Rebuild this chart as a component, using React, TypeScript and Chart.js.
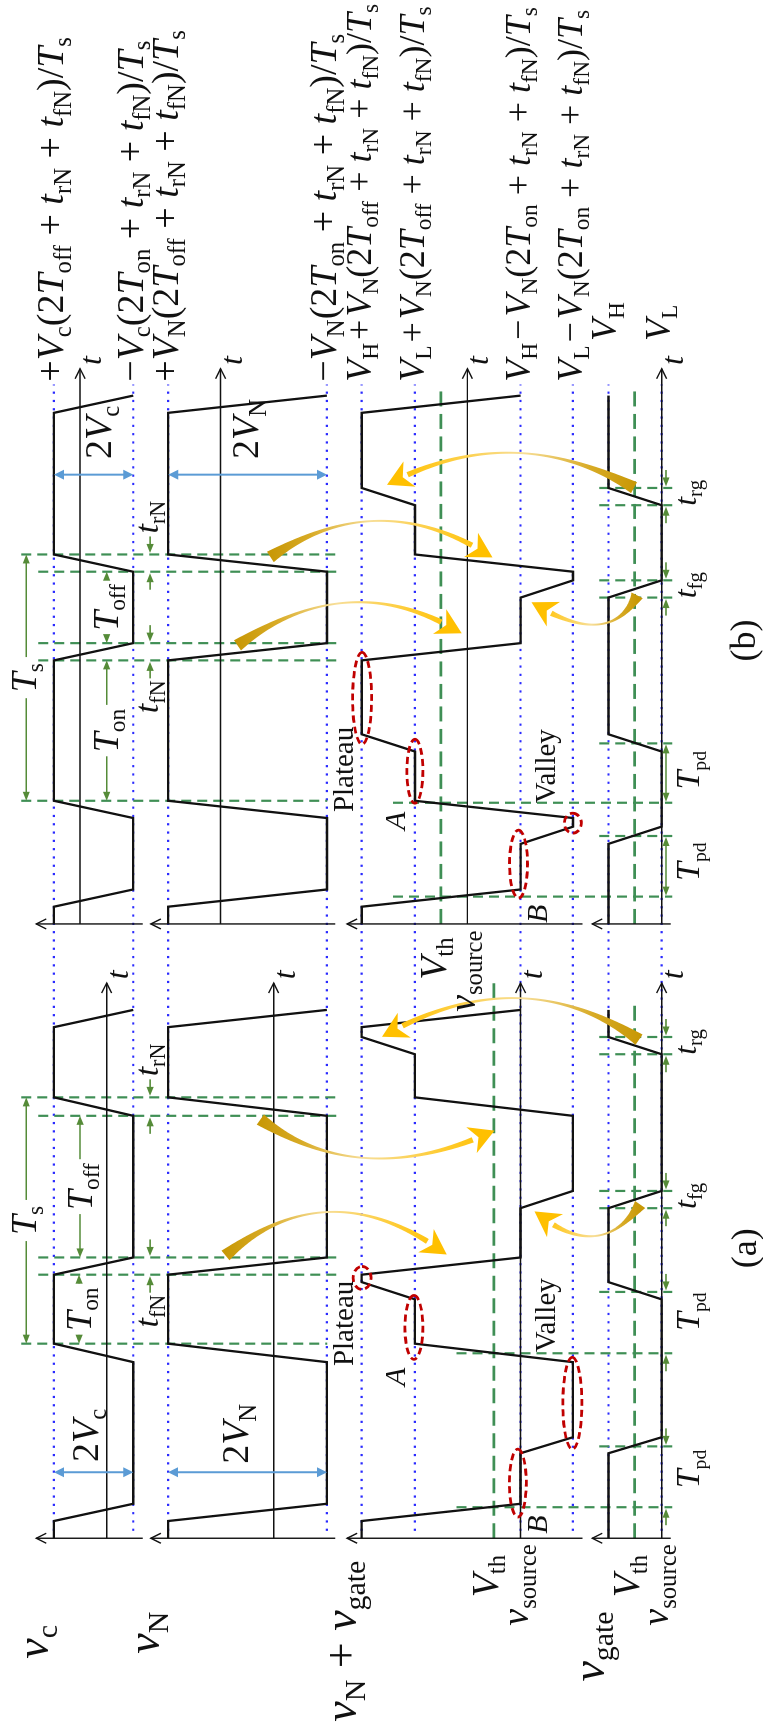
import React, { useEffect, useRef } from 'react';
import { Chart, registerables } from 'chart.js';

Chart.register(...registerables);

/* ======================= DATA =======================
   time in µs (T_s = 10 µs), each panel measured from its own origin
   amplitudes normalised: row v_c in V_c, other rows in V_N            */

// panel (a): T_on < T_off
const A_CARRIER_T = [0, 0.7, 1.4, 7.15, 7.9, 10.7, 11.4, 17.15, 17.9, 20.75, 21.45];
const A_VC = [1.33, 1.33, -0.67, -0.67, 1.33, 1.33, -0.67, -0.67, 1.33, 1.33, -0.67];
const A_VN = [1.33, 1.33, -0.67, -0.67, 1.33, 1.33, -0.67, -0.67, 1.33, 1.33, -0.67];
const A_SUM_T = [0, 0.7, 1.4, 3.45, 4.1, 7.15, 7.9, 9.7, 10.4, 10.7, 11.4, 13.4, 14.1, 17.15, 17.9, 19.65, 20.35, 20.75, 21.45];
const A_SUM = [2.0, 2.0, 0, 0, -0.66, -0.66, 1.33, 1.33, 2.0, 2.0, 0, 0, -0.66, -0.66, 1.33, 1.33, 2.0, 2.0, 0];
const A_GATE_T = [0, 3.45, 4.1, 9.7, 10.4, 13.4, 14.1, 19.65, 20.35, 21.45];
const A_GATE = [0.67, 0.67, 0, 0, 0.67, 0.67, 0, 0, 0.67, 0.67];

// panel (b): T_on > T_off
const B_CARRIER_T = [0, 0.7, 1.4, 4.3, 5.0, 10.7, 11.4, 14.3, 15.0, 20.75, 21.45];
const B_VC = [0.66, 0.66, -1.34, -1.34, 0.66, 0.66, -1.34, -1.34, 0.66, 0.66, -1.34];
const B_VN = [0.66, 0.66, -1.34, -1.34, 0.66, 0.66, -1.34, -1.34, 0.66, 0.66, -1.34];
const B_SUM_T = [0, 0.7, 1.4, 3.25, 3.95, 4.3, 5.0, 7.0, 7.7, 10.7, 11.4, 13.25, 13.95, 14.3, 15.0, 17.0, 17.7, 20.75, 21.45];
const B_SUM = [1.33, 1.33, -0.67, -0.67, -1.33, -1.33, 0.66, 0.66, 1.33, 1.33, -0.67, -0.67, -1.33, -1.33, 0.66, 0.66, 1.33, 1.33, -0.67];
const B_GATE_T = [0, 3.25, 3.95, 7.0, 7.7, 13.25, 13.95, 17.0, 17.7, 21.45];
const B_GATE = [0.67, 0.67, 0, 0, 0.67, 0.67, 0, 0, 0.67, 0.67];

// reference levels
const VC_LEVELS = [1.33, -0.67];
const VN_LEVELS = [1.33, -0.67];
const SUM_LEVELS = [2.0, 1.33, 0, -0.66];
const GATE_LEVELS = [0.67, 0];
const B_VC_LEVELS = [0.66, -1.34];
const B_VN_LEVELS = [0.66, -1.34];
const B_SUM_LEVELS = [1.33, 0.66, -0.67, -1.33];
const V_TH_SUM = 0.335;
const V_TH_GATE = 0.34;

// timing marks (µs): T_s start, end of T_on, end of t_fN, end of T_off, end of t_rN
const A_MARKS = [7.9, 10.7, 11.4, 17.15, 17.9];
const B_MARKS = [5.0, 10.7, 11.4, 14.3, 15.0];
const A_PD = [[1.26, 3.73], [7.51, 10.0]];
const B_PD = [[1.11, 3.57], [4.92, 7.33]];
const A_PD_LABEL = [2.81, 9.2];
const B_PD_LABEL = [2.53, 6.24];
const A_GSW = [[13.4, 14.1], [19.65, 20.35]];
const B_GSW = [[13.25, 13.95], [17.0, 17.7]];

/* ======================= LAYOUT / STYLE ======================= */
const W = 1732;
const H = 763;
const PX_PER_US = 24.67;
const X0 = 192.7;
const B_SHIFT = 24.94;
const T_TIP = 22.54;
const ROW_SCALE: Record<string, [number, number]> = {
  vc_a: [105.7, 39.8], vc_b: [79.0, 39.8],
  vN_a: [273.3, 79.7], vN_b: [220.0, 79.7],
  sum_a: [521.0, 79.7], sum_b: [467.7, 79.7],
  g_a: [662.7, 79.7], g_b: [662.7, 79.7],
};
const ROWS = ['vc', 'vN', 'sum', 'g'];
const AXIS_SPAN: Record<string, [number, number]> = { vc: [35, 142], vN: [150, 335], sum: [347, 583.3], g: [593, 671.7] };

const BLACK = '#111111';
const BLUE_DOT = '#2a2aff';
const GREEN_DASH = '#3f8f55';
const GREEN_ARR = '#558b38';
const BLUE_ARR = '#5b9bd5';
const RED = '#c00000';

// gold arrows: panel, tail(t,Y), control(t,Y), tip(t,Y)
const GOLD: [string, number, number, number, number, number, number][] = [
  ['a', 11.48, 225, 15.0, 330, 11.52, 447],
  ['a', 17.0, 260, 14.08, 362, 16.55, 495],
  ['a', 13.55, 641, 11.12, 600, 13.27, 535],
  ['a', 20.24, 640, 23.56, 520, 20.36, 382],
  ['b', 14.9, 270, 17.84, 380, 14.88, 493],
  ['b', 11.31, 237, 14.55, 350, 11.8, 462],
  ['b', 13.34, 638, 11.11, 610, 13.06, 532],
  ['b', 17.71, 635, 20.49, 511, 17.83, 387],
];
// red dashed rings: panel, t, Y, rx, ry
const RINGS: [string, number, number, number, number][] = [
  ['a', 2.24, 518.3, 34, 8.5], ['a', 5.48, 573, 46, 9.5], ['a', 8.56, 414, 32, 9], ['a', 10.57, 362, 11.5, 9],
  ['b', 9.16, 362, 46, 9.5], ['b', 6.2, 415, 32, 8], ['b', 2.43, 519, 34, 9], ['b', 4.09, 573.5, 10, 8.5],
];

/* ======================= datasets ======================= */
function buildDatasets() {
  const ds: any[] = [];
  const add = (data: any[], yAxisID: string, color: string, width: number, dash: number[], order: number) =>
    ds.push({
      data, xAxisID: 'x', yAxisID, showLine: true, borderColor: color, backgroundColor: color,
      borderWidth: width, borderDash: dash, pointRadius: 0, pointHoverRadius: 0, pointHitRadius: 0,
      fill: false, tension: 0, order, borderCapStyle: 'butt', borderJoinStyle: 'miter',
    });
  const seg = (x1: number, y1: number, x2: number, y2: number) => [{ x: x1, y: y1 }, { x: x2, y: y2 }];
  const zip = (ts: number[], vs: number[], off: number) => ts.map((t, i) => ({ x: t + off, y: vs[i] }));

  const dotEnd = B_SHIFT + 21.9;
  const dotted: [string, number[]][] = [['vc_a', VC_LEVELS], ['vN_a', VN_LEVELS], ['sum_a', SUM_LEVELS], ['g_a', GATE_LEVELS]];
  dotted.forEach(([id, lv]) => lv.forEach((v) => add(seg(0.3, v, dotEnd, v), id, BLUE_DOT, 2.2, [2.2, 6.1], 40)));

  add(seg(0, V_TH_SUM, 22.6, V_TH_SUM), 'sum_a', GREEN_DASH, 2.7, [15, 7.5], 30);
  add(seg(0, V_TH_GATE, 21.9, V_TH_GATE), 'g_a', GREEN_DASH, 2.7, [15, 7.5], 30);
  add(seg(B_SHIFT, V_TH_SUM, B_SHIFT + 21.85, V_TH_SUM), 'sum_b', GREEN_DASH, 2.7, [15, 7.5], 30);
  add(seg(B_SHIFT, V_TH_GATE, B_SHIFT + 21.85, V_TH_GATE), 'g_b', GREEN_DASH, 2.7, [15, 7.5], 30);

  const mark = (t: number, y1: number, y2: number) => add(seg(t, y1, t, y2), 'fig', GREEN_DASH, 2.2, [10, 6], 25);
  ([[A_MARKS, 0], [B_MARKS, B_SHIFT]] as [number[], number][]).forEach(([m, off]) =>
    m.forEach((t, i) => mark(t + off, i === 0 || i === m.length - 1 ? 20 : 37, i === 0 ? 327 : 340)));
  A_PD.forEach(([s, e]) => { mark(s, 456.7, 673.3); mark(e, 600, 673.3); });
  B_PD.forEach(([s, e]) => { mark(s + B_SHIFT, 393, 673.3); mark(e + B_SHIFT, 600, 673.3); });
  A_GSW.forEach((pr) => pr.forEach((t) => mark(t, 600, 673.3)));
  B_GSW.forEach((pr) => pr.forEach((t) => mark(t + B_SHIFT, 600, 673.3)));

  ([['a', 0], ['b', B_SHIFT]] as [string, number][]).forEach(([p, off]) => {
    ROWS.forEach((r) => {
      add(seg(off, 0, off + T_TIP, 0), `${r}_${p}`, BLACK, 1.4, [], 10);
      const [y1, y2] = AXIS_SPAN[r];
      add(seg(off, y1, off, y2), 'fig', BLACK, 1.4, [], 10);
    });
  });

  add(zip(A_CARRIER_T, A_VC, 0), 'vc_a', BLACK, 2.3, [], 0);
  add(zip(A_CARRIER_T, A_VN, 0), 'vN_a', BLACK, 2.3, [], 0);
  add(zip(A_SUM_T, A_SUM, 0), 'sum_a', BLACK, 2.3, [], 0);
  add(zip(A_GATE_T, A_GATE, 0), 'g_a', BLACK, 2.3, [], 0);
  add(zip(B_CARRIER_T, B_VC, B_SHIFT), 'vc_b', BLACK, 2.3, [], 0);
  add(zip(B_CARRIER_T, B_VN, B_SHIFT), 'vN_b', BLACK, 2.3, [], 0);
  add(zip(B_SUM_T, B_SUM, B_SHIFT), 'sum_b', BLACK, 2.3, [], 0);
  add(zip(B_GATE_T, B_GATE, B_SHIFT), 'g_b', BLACK, 2.3, [], 0);
  return ds;
}

/* ======================= font handling ======================= */
type FontInfo = { fam: string; k: number; fakeItalic: boolean };
function fontInfo(ctx: CanvasRenderingContext2D): FontInfo {
  const cands = ['Liberation Serif', 'Times New Roman', 'Tinos', 'Nimbus Roman', 'FreeSerif', 'DejaVu Serif', 'Noto Serif'];
  const probe = 'Plateau Valley 2Tgw';
  let fam = 'serif';
  ctx.save();
  for (const c of cands) {
    ctx.font = `100px "${c}", monospace`;
    const a = ctx.measureText(probe).width;
    ctx.font = '100px monospace';
    const b = ctx.measureText(probe).width;
    if (Math.abs(a - b) > 0.5) { fam = `"${c}", serif`; break; }
  }
  ctx.font = `100px ${fam}`;
  const wp = ctx.measureText('Plateau').width;
  let k = 294.4 / wp;
  k = Math.min(1.1, Math.max(0.78, k));
  ctx.font = `italic 100px ${fam}`;
  const wi = ctx.measureText('vVtTAfg').width;
  ctx.font = `100px ${fam}`;
  const wn = ctx.measureText('vVtTAfg').width;
  ctx.restore();
  return { fam, k, fakeItalic: Math.abs(wi - wn) < 0.5 };
}
let FI: FontInfo = { fam: '"Liberation Serif", serif', k: 1, fakeItalic: false };

/* ======================= drawing helpers ======================= */
type Seg = { text: string; italic: boolean; sub: boolean };
function parseMath(s: string): Seg[] {
  const out: Seg[] = [];
  let i = 0;
  while (i < s.length) {
    if (s[i] === '_' && s[i + 1] === '{') {
      const j = s.indexOf('}', i);
      out.push({ text: s.slice(i + 2, j), italic: false, sub: true });
      i = j + 1;
      continue;
    }
    const ch = s[i];
    const italic = /[A-Za-z]/.test(ch);
    const last = out[out.length - 1];
    if (last && !last.sub && last.italic === italic) last.text += ch;
    else out.push({ text: ch, italic, sub: false });
    i++;
  }
  return out;
}

function drawMath(ctx: CanvasRenderingContext2D, s: string, x: number, y: number, size0: number, align = 'left', o: any = {}) {
  const size = size0 * FI.k;
  const subR = o.sub ?? 0.65;
  const drop = o.drop ?? 0.2;
  const segs: Seg[] = o.plain ? [{ text: s, italic: !!o.italic, sub: false }] : parseMath(s);
  const font = (g: Seg) => `${g.italic ? 'italic ' : ''}${(g.sub ? size * subR : size).toFixed(1)}px ${FI.fam}`;
  const widths = segs.map((g) => { ctx.font = font(g); return ctx.measureText(g.text).width; });
  const total = widths.reduce((a, b) => a + b, 0);
  let cx = align === 'left' ? x : align === 'center' ? x - total / 2 : x - total;
  ctx.textAlign = 'left';
  ctx.textBaseline = 'alphabetic';
  ctx.fillStyle = o.color || BLACK;
  segs.forEach((g, k) => {
    ctx.font = font(g);
    const yy = g.sub ? y + size * drop : y;
    if (g.italic && FI.fakeItalic) {
      ctx.save();
      ctx.translate(cx, yy);
      ctx.transform(1, 0, -0.21, 1, 0, 0);
      ctx.fillText(g.text, 0, 0);
      ctx.restore();
    } else {
      ctx.fillText(g.text, cx, yy);
    }
    cx += widths[k];
  });
  return total;
}

function head(ctx: CanvasRenderingContext2D, tx: number, ty: number, ux: number, uy: number, len: number, half: number, filled: boolean, color: string) {
  const bx = tx - ux * len, by = ty - uy * len, nx = -uy, ny = ux;
  ctx.beginPath();
  ctx.moveTo(bx + nx * half, by + ny * half);
  ctx.lineTo(tx, ty);
  ctx.lineTo(bx - nx * half, by - ny * half);
  if (filled) { ctx.closePath(); ctx.fillStyle = color; ctx.fill(); }
  else { ctx.strokeStyle = color; ctx.stroke(); }
}

function arrow(ctx: CanvasRenderingContext2D, x1: number, y1: number, x2: number, y2: number, color: string, width: number, both = false, len = 9, half = 3.6) {
  const d = Math.hypot(x2 - x1, y2 - y1);
  const ux = (x2 - x1) / d, uy = (y2 - y1) / d;
  ctx.setLineDash([]);
  ctx.strokeStyle = color;
  ctx.lineWidth = width;
  ctx.beginPath();
  ctx.moveTo(both ? x1 + ux * len * 0.7 : x1, both ? y1 + uy * len * 0.7 : y1);
  ctx.lineTo(x2 - ux * len * 0.7, y2 - uy * len * 0.7);
  ctx.stroke();
  head(ctx, x2, y2, ux, uy, len, half, true, color);
  if (both) head(ctx, x1, y1, -ux, -uy, len, half, true, color);
}

function goldArrow(ctx: CanvasRenderingContext2D, p0: number[], c: number[], p2: number[]) {
  const N = 120;
  const pts: number[][] = [];
  for (let i = 0; i <= N; i++) {
    const s = i / N, a = (1 - s) * (1 - s), b = 2 * (1 - s) * s, d = s * s;
    pts.push([a * p0[0] + b * c[0] + d * p2[0], a * p0[1] + b * c[1] + d * p2[1]]);
  }
  const cum = [0];
  for (let i = 1; i <= N; i++) cum.push(cum[i - 1] + Math.hypot(pts[i][0] - pts[i - 1][0], pts[i][1] - pts[i - 1][1]));
  const L = cum[N];
  const headLen = 25, headHalf = 14;
  let k = N;
  while (k > 0 && L - cum[k] < headLen - 3) k--;
  const tip = pts[N];
  const ref = pts[Math.max(0, k - 2)];
  let ux = tip[0] - ref[0], uy = tip[1] - ref[1];
  const dl = Math.hypot(ux, uy); ux /= dl; uy /= dl;
  const left: number[][] = [], right: number[][] = [];
  for (let i = 0; i <= k; i++) {
    const s = cum[i] / cum[k];
    const w = 1.0 + 11.5 * Math.pow(1 - s, 5) + 4.5 * Math.pow(s, 3);
    const j0 = Math.max(0, i - 1), j1 = Math.min(N, i + 1);
    let tx = pts[j1][0] - pts[j0][0], ty = pts[j1][1] - pts[j0][1];
    const tl = Math.hypot(tx, ty); tx /= tl; ty /= tl;
    left.push([pts[i][0] - ty * w / 2, pts[i][1] + tx * w / 2]);
    right.push([pts[i][0] + ty * w / 2, pts[i][1] - tx * w / 2]);
  }
  const g = ctx.createLinearGradient(p0[0], p0[1], tip[0], tip[1]);
  g.addColorStop(0, '#c89806');
  g.addColorStop(0.18, '#d8ab26');
  g.addColorStop(0.45, '#f7de98');
  g.addColorStop(0.8, '#ffca2a');
  g.addColorStop(1, '#ffc000');
  ctx.beginPath();
  left.forEach((p, i) => (i ? ctx.lineTo(p[0], p[1]) : ctx.moveTo(p[0], p[1])));
  for (let i = right.length - 1; i >= 0; i--) ctx.lineTo(right[i][0], right[i][1]);
  ctx.closePath();
  ctx.fillStyle = g;
  ctx.fill();
  const bx = tip[0] - ux * headLen, by = tip[1] - uy * headLen, nx = -uy, ny = ux;
  ctx.beginPath();
  ctx.moveTo(tip[0], tip[1]);
  ctx.lineTo(bx + nx * headHalf, by + ny * headHalf);
  ctx.lineTo(tip[0] - ux * headLen * 0.7, tip[1] - uy * headLen * 0.7);
  ctx.lineTo(bx - nx * headHalf, by - ny * headHalf);
  ctx.closePath();
  ctx.fillStyle = '#ffc000';
  ctx.fill();
}

/* ======================= annotation plugin ======================= */
const figurePlugin = {
  id: 'figureNotes',
  afterDatasetsDraw(chart: any) {
    const ctx: CanvasRenderingContext2D = chart.ctx;
    FI = fontInfo(ctx);
    const X = (t: number, p: string) => chart.scales.x.getPixelForValue(t + (p === 'b' ? B_SHIFT : 0));
    const V = (id: string, v: number) => chart.scales[id].getPixelForValue(v);
    const F = (y: number) => chart.scales.fig.getPixelForValue(y);
    ctx.save();
    ctx.lineCap = 'butt';

    // axis arrowheads
    ctx.lineWidth = 1.4;
    ctx.setLineDash([]);
    ['a', 'b'].forEach((p) => {
      ROWS.forEach((r) => {
        head(ctx, X(0, p), F(AXIS_SPAN[r][0]), 0, -1, 10, 5, false, BLACK);
        head(ctx, X(T_TIP, p), V(`${r}_${p}`, 0), 1, 0, 10, 5, false, BLACK);
        drawMath(ctx, 't', X(T_TIP + 0.15, p), V(`${r}_${p}`, 0) + 21, 32);
      });
    });

    // carrier timing dimensions
    const dims = [
      { p: 'a', m: A_MARKS, y: [78, 79] },
      { p: 'b', m: B_MARKS, y: [105.7, 105.7] },
    ];
    dims.forEach(({ p, m, y }) => {
      const xs = X(m[0], p), xe = X(m[4], p), xm = (xs + xe) / 2;
      const wTs = drawMath(ctx, 'T_{s}', xm, F(35), 36, 'center');
      arrow(ctx, xm - wTs / 2 - 6, F(25), xs, F(25), GREEN_ARR, 1.6);
      arrow(ctx, xm + wTs / 2 + 6, F(25), xe, F(25), GREEN_ARR, 1.6);
      const inside = (a: number, b: number, yy: number, label: string) => {
        const xa = X(a, p), xb = X(b, p), mid = (xa + xb) / 2;
        const w = drawMath(ctx, label, mid, F(yy + 11.5), 36, 'center');
        if (mid - w / 2 - 4 - xa > 6) arrow(ctx, mid - w / 2 - 4, F(yy), xa, F(yy), GREEN_ARR, 1.6);
        if (xb - (mid + w / 2 + 4) > 6) arrow(ctx, mid + w / 2 + 4, F(yy), xb, F(yy), GREEN_ARR, 1.6);
      };
      inside(m[0], m[1], y[0], 'T_{on}');
      inside(m[2], m[3], y[1], 'T_{off}');
      const outside = (a: number, b: number, yy: number) => {
        const xa = X(a, p), xb = X(b, p);
        arrow(ctx, xa - 18, F(yy), xa - 1.5, F(yy), GREEN_ARR, 1.6);
        arrow(ctx, xb + 18, F(yy), xb + 1.5, F(yy), GREEN_ARR, 1.6);
      };
      outside(m[1], m[2], 149.3);
      outside(m[3], m[4], 149.3);
      drawMath(ctx, 't_{fN}', X(m[1], p) - 20, F(157), 34, 'right');
      drawMath(ctx, 't_{rN}', X(m[4], p) + 21, F(157), 34, 'left');
    });

    // gate timing dimensions
    const gOut = (p: string, a: number, b: number) => {
      const xa = X(a, p), xb = X(b, p);
      arrow(ctx, xa - 18, F(667), xa - 1.5, F(667), GREEN_ARR, 1.6);
      arrow(ctx, xb + 18, F(667), xb + 1.5, F(667), GREEN_ARR, 1.6);
    };
    A_PD.forEach(([s, e], i) => { gOut('a', s, e); drawMath(ctx, 'T_{pd}', X(A_PD_LABEL[i], 'a'), F(700), 34, 'center', { sub: 0.58 }); });
    B_PD.forEach(([s, e], i) => {
      arrow(ctx, X(s, 'b') + 1, F(667), X(e, 'b') - 1, F(667), GREEN_ARR, 1.6, true);
      drawMath(ctx, 'T_{pd}', X(B_PD_LABEL[i], 'b'), F(700), 34, 'center', { sub: 0.58 });
    });
    ([['a', A_GSW], ['b', B_GSW]] as [string, number[][]][]).forEach(([p, sw]) => {
      sw.forEach(([s, e], i) => {
        gOut(p, s, e);
        drawMath(ctx, i === 0 ? 't_{fg}' : 't_{rg}', X((s + e) / 2 + 0.15, p), F(697), 32, 'center');
      });
    });

    // 2V amplitude arrows
    const amp = (p: string, t: number, id: string, lv: number[], label: string, lt: number, base: number) => {
      arrow(ctx, X(t, p), V(id, lv[0]), X(t, p), V(id, lv[1]), BLUE_ARR, 2, true, 10, 5);
      drawMath(ctx, label, X(lt, p), F(base), 38, 'left');
    };
    amp('a', 2.68, 'vc_a', VC_LEVELS, '2V_{c}', 3.1, 97);
    amp('a', 2.68, 'vN_a', VN_LEVELS, '2V_{N}', 3.02, 248);
    amp('b', 18.24, 'vc_b', B_VC_LEVELS, '2V_{c}', 18.88, 110);
    amp('b', 18.24, 'vN_b', B_VN_LEVELS, '2V_{N}', 18.88, 258);

    // gold arrows
    GOLD.forEach(([p, t0, y0, tc, yc, t1, y1]) =>
      goldArrow(ctx, [X(t0, p), F(y0)], [X(tc, p), F(yc)], [X(t1, p), F(y1)]));

    // red rings
    ctx.setLineDash([7, 4]);
    ctx.lineWidth = 2.8;
    ctx.strokeStyle = RED;
    RINGS.forEach(([p, t, y, rx, ry]) => {
      ctx.beginPath();
      ctx.ellipse(X(t, p), F(y), rx, ry, 0, 0, Math.PI * 2);
      ctx.stroke();
    });
    ctx.setLineDash([]);

    // row labels
    drawMath(ctx, 'v_{c}', X(-4.89, 'a'), F(47), 46, 'left');
    drawMath(ctx, 'v_{N}', X(-4.69, 'a'), F(158), 46, 'left');
    drawMath(ctx, 'v_{N} + v_{gate}', X(-7.45, 'a'), F(356), 46, 'left');
    drawMath(ctx, 'v_{gate}', X(-5.82, 'a'), F(605), 46, 'left');

    // level labels at panel starts
    drawMath(ctx, 'V_{th}', X(-2.4, 'a'), F(498), 38, 'left');
    drawMath(ctx, 'v_{source}', X(-3.55, 'a'), F(529), 38, 'left');
    drawMath(ctx, 'V_{th}', X(-2.4, 'a'), F(640), 38, 'left');
    drawMath(ctx, 'v_{source}', X(-3.55, 'a'), F(669), 38, 'left');
    drawMath(ctx, 'V_{th}', X(-2.27, 'b'), F(446), 38, 'left');
    drawMath(ctx, 'v_{source}', X(-3.57, 'b'), F(475), 38, 'left');

    // level formulas at the right
    const tf = 22.01;
    const formulas: [string, string, number, number][] = [
      ['+V_{c}(2T_{off} + t_{rN} + t_{fN})/T_{s}', 'vc_b', B_VC_LEVELS[0], 38],
      ['\u2212V_{c}(2T_{on} + t_{rN} + t_{fN})/T_{s}', 'vc_b', B_VC_LEVELS[1], 38],
      ['+V_{N}(2T_{off} + t_{rN} + t_{fN})/T_{s}', 'vN_b', B_VN_LEVELS[0], 38],
      ['\u2212V_{N}(2T_{on} + t_{rN} + t_{fN})/T_{s}', 'vN_b', B_VN_LEVELS[1], 38],
      ['V_{H}\u200a+\u200aV_{N}(2T_{off} + t_{rN} + t_{fN})/T_{s}', 'sum_b', B_SUM_LEVELS[0], 36],
      ['V_{L}\u200a+\u200aV_{N}(2T_{off} + t_{rN} + t_{fN})/T_{s}', 'sum_b', B_SUM_LEVELS[1], 36],
      ['V_{H}\u200a\u2212\u200aV_{N}(2T_{on} + t_{rN} + t_{fN})/T_{s}', 'sum_b', B_SUM_LEVELS[2], 36],
      ['V_{L}\u200a\u2212\u200aV_{N}(2T_{on} + t_{rN} + t_{fN})/T_{s}', 'sum_b', B_SUM_LEVELS[3], 36],
    ];
    formulas.forEach(([s, id, v, sz]) => drawMath(ctx, s, X(tf, 'b'), V(id, v) + sz / 4, sz, 'left'));
    drawMath(ctx, 'V_{H}', X(23.67, 'b'), V('g_b', GATE_LEVELS[0]) + 8, 36, 'left');
    drawMath(ctx, 'V_{L}', X(23.67, 'b'), V('g_b', GATE_LEVELS[1]) + 8, 36, 'left');

    // point names
    drawMath(ctx, 'Plateau', X(6.99, 'a'), F(353), 29, 'left', { plain: true });
    drawMath(ctx, 'Plateau', X(4.54, 'b'), F(353), 29, 'left', { plain: true });
    drawMath(ctx, 'Valley', X(7.55, 'a'), F(556), 29, 'left', { plain: true });
    drawMath(ctx, 'Valley', X(4.9, 'b'), F(556), 29, 'left', { plain: true });
    drawMath(ctx, 'A', X(6.18, 'a'), F(405), 30, 'left');
    drawMath(ctx, 'A', X(3.81, 'b'), F(405), 30, 'left');
    drawMath(ctx, 'B', X(0.18, 'a'), F(548), 30, 'left');
    drawMath(ctx, 'B', X(0.04, 'b'), F(548), 30, 'left');

    drawMath(ctx, '(a)', X(11.77, 'a'), F(757), 36, 'center', { plain: true });
    drawMath(ctx, '(b)', X(11.51, 'b'), F(756), 36, 'center', { plain: true });

    ctx.restore();
  },
};

/* ======================= component ======================= */
export default function App() {
  const ref = useRef<HTMLCanvasElement>(null);

  useEffect(() => {
    const canvas = ref.current;
    if (!canvas) return;
    const scales: any = {
      x: { type: 'linear', axis: 'x', position: 'bottom', display: false, min: -X0 / PX_PER_US, max: (W - X0) / PX_PER_US },
      y: { type: 'linear', axis: 'y', position: 'left', display: false, min: 0, max: 1 },
      fig: { type: 'linear', axis: 'y', position: 'left', display: false, min: 0, max: H, reverse: true },
    };
    Object.entries(ROW_SCALE).forEach(([id, [zero, ppu]]) => {
      scales[id] = { type: 'linear', axis: 'y', position: 'left', display: false, min: (zero - H) / ppu, max: zero / ppu };
    });
    const chart = new Chart(canvas, {
      type: 'scatter',
      data: { datasets: buildDatasets() },
      options: {
        responsive: false,
        maintainAspectRatio: false,
        animation: false,
        devicePixelRatio: 1,
        events: [],
        layout: { padding: 0 },
        plugins: { legend: { display: false }, tooltip: { enabled: false }, title: { display: false } },
        scales,
      } as any,
      plugins: [figurePlugin as any],
    });
    let alive = true;
    const fonts: any = (document as any).fonts;
    if (fonts && fonts.load) {
      Promise.all([
        fonts.load('36px "Liberation Serif"'),
        fonts.load('italic 36px "Liberation Serif"'),
      ])
        .then(() => { if (alive) chart.update('none'); })
        .catch(() => {});
    }
    return () => { alive = false; chart.destroy(); };
  }, []);

  return (
    <div style={{ position: 'fixed', left: 0, top: 0, width: 763, height: 1732, overflow: 'hidden', background: '#ffffff' }}>
      <div style={{ position: 'absolute', left: 0, top: 0, width: W, height: H, transformOrigin: '0 0', transform: `translateY(${W}px) rotate(-90deg)` }}>
        <canvas ref={ref} width={W} height={H} style={{ display: 'block', width: W, height: H }} />
      </div>
    </div>
  );
}
